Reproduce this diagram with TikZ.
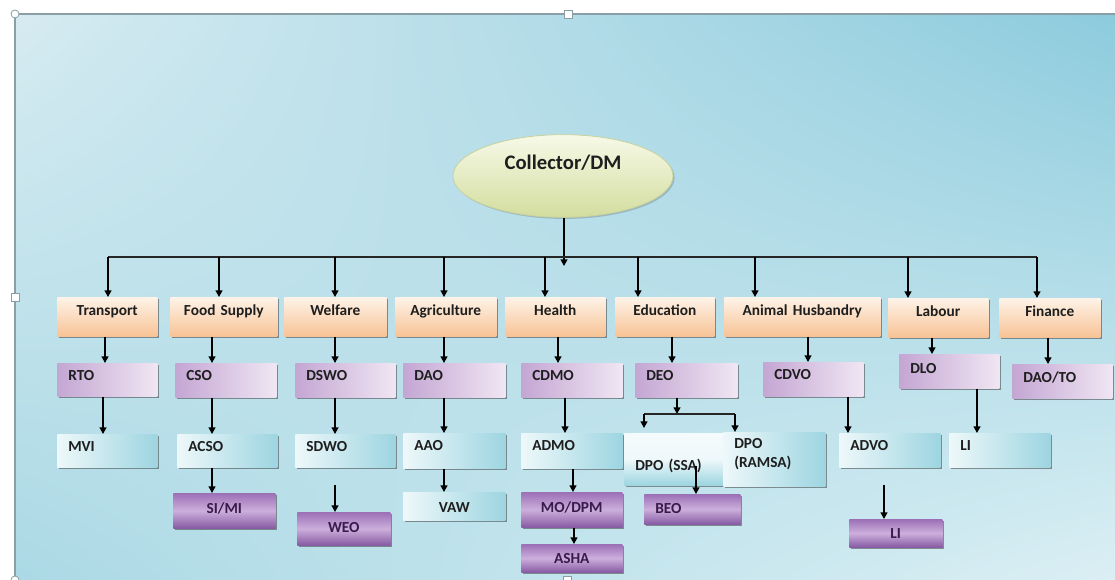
\documentclass[tikz,border=0pt]{standalone}
\usepackage{fontspec}
\setmainfont{Carlito}
\usetikzlibrary{arrows.meta,shapes.geometric,shadows,shadings}

\definecolor{bgUL}{HTML}{D6EBF1}
\definecolor{bgUR}{HTML}{8CCBDD}
\definecolor{bgLL}{HTML}{ABD9E5}
\definecolor{bgLR}{HTML}{DBEFF4}
\definecolor{frameC}{HTML}{8A9EA6}
\definecolor{peachT}{HTML}{FEF3E8}
\definecolor{peachB}{HTML}{F7C395}
\definecolor{lavL}{HTML}{C4A6D3}
\definecolor{lavR}{HTML}{F0E6F3}
\definecolor{aqL}{HTML}{EEF8FA}
\definecolor{aqR}{HTML}{9DD5E1}
\definecolor{plT}{HTML}{9C70B6}
\definecolor{plM}{HTML}{CCAFDC}
\definecolor{plB}{HTML}{875AA3}
\definecolor{ellT}{HTML}{F7F9E8}
\definecolor{ellB}{HTML}{D3DD9E}
\definecolor{ellLine}{HTML}{C8D29C}
\definecolor{inkC}{HTML}{1E1E1E}
\definecolor{plInk}{HTML}{3A1A4C}

% box: style, name, x, y, width, height, baseline offset (all in px), text
\newcommand\ubox[8]{%
  \pgfmathsetmacro\uboxW{#5*0.75}%
  \pgfmathsetmacro\uboxH{#6*0.75}%
  \pgfmathsetmacro\uboxT{#7*0.75}%
  \pgfmathsetmacro\uboxD{\uboxH-\uboxT}%
  \pgfmathsetmacro\uboxTW{\uboxW-16.5}%
  \node[#1, anchor=north west, inner xsep=8.25pt, inner ysep=0pt,
        text width=\uboxTW pt, text height=\uboxT pt, text depth=\uboxD pt]
        (#2) at (#3,#4) {#8};}

\tikzset{
  box/.style={font=\bfseries\fontsize{11.5}{14.5}\selectfont, text=inkC,
    drop shadow={shadow xshift=1.6pt, shadow yshift=-1.6pt, opacity=.5, fill=black!80}},
  peachbox/.style={box, top color=peachT, bottom color=peachB, align=center},
  lavbox/.style={box, left color=lavL, right color=lavR, align=left},
  aqbox/.style={box, left color=aqL, right color=aqR},
  tallaqbox/.style={box, top color=aqL!60!white, bottom color=aqR, middle color=aqL},
  plumbox/.style={box, top color=plT, bottom color=plB, middle color=plM, text=plInk},
  wire/.style={draw=black, line width=1.1pt, -{Triangle[length=5pt,width=5.2pt]}},
  bar/.style={draw=black!85, line width=1.1pt},
  handle/.style={fill=white, draw=frameC, line width=.6pt}
}

\begin{document}
\begin{tikzpicture}[x=0.75pt,y=-0.75pt]
\useasboundingbox (0,0) rectangle (1115,580);

% page background and frame
\fill[white] (0,0) rectangle (1115,580);
\shade[upper left=bgUL, upper right=bgUR, lower left=bgLL, lower right=bgLR]
  (15,14) rectangle (1115,580);
\draw[frameC, line width=1.5pt] (15,580) -- (15,14) -- (1115,14);
\draw[handle] (15,14) circle[radius=3pt];
\draw[handle] (564,10) rectangle (572,18);
\draw[handle] (11,293) rectangle (19,301);
\draw[handle] (15,580) circle[radius=3pt];
\draw[handle] (563,576) rectangle (571,584);

% head
\node[ellipse, draw=ellLine, line width=.6pt, top color=ellT, bottom color=ellB,
      minimum width=165pt, minimum height=62pt, inner sep=0pt,
      text height=11pt, text depth=20pt, text=inkC,
      font=\bfseries\fontsize{15.5}{18}\selectfont,
      drop shadow={shadow xshift=1.2pt, shadow yshift=-1.2pt, opacity=.25, fill=black!70}]
      (collector) at (563,176) {Collector/DM};

% departments
\ubox{peachbox}{transport}{57}{297}{100}{39}{18}{Transport}
\ubox{peachbox}{food}{170}{297}{107}{39}{18}{Food Supply}
\ubox{peachbox}{welfare}{284}{297}{102}{39}{18}{Welfare}
\ubox{peachbox}{agri}{395}{297}{101}{39}{18}{Agriculture}
\ubox{peachbox}{health}{505}{297}{100}{39}{18}{Health}
\ubox{peachbox}{education}{615}{297}{99}{39}{18}{Education}
\ubox{peachbox}{animal}{724}{297}{156}{39}{18}{Animal Husbandry}
\ubox{peachbox}{labour}{888}{298}{100}{39}{18}{Labour}
\ubox{peachbox}{finance}{999}{298}{101}{39}{18}{Finance}

% district officers
\ubox{lavbox}{rto}{57}{363}{100}{33}{17}{RTO}
\ubox{lavbox}{cso}{175}{363}{101}{34}{17}{CSO}
\ubox{lavbox}{dswo}{295}{363}{100}{34}{17}{DSWO}
\ubox{lavbox}{dao}{403}{363}{102}{34}{17}{DAO}
\ubox{lavbox}{cdmo}{521}{363}{101}{34}{17}{CDMO}
\ubox{lavbox}{deo}{635}{363}{102}{34}{17}{DEO}
\ubox{lavbox}{cdvo}{763}{362}{100}{34}{17}{CDVO}
\ubox{lavbox}{dlo}{899}{354}{100}{34}{19}{DLO}
\ubox{lavbox}{daoto}{1012}{364}{100}{34}{18}{DAO/TO}

% assistant officers
\ubox{aqbox,align=left}{mvi}{57}{434}{100}{33}{17}{MVI}
\ubox{aqbox,align=left}{acso}{177}{434}{100}{33}{17}{ACSO}
\ubox{aqbox,align=left}{sdwo}{295}{434}{100}{33}{17}{SDWO}
\ubox{aqbox,align=left}{aao}{403}{433}{102}{35}{17}{AAO}
\ubox{aqbox,align=left}{admo}{521}{433}{101}{35}{17}{ADMO}
\ubox{tallaqbox,align=left}{dposs}{624}{433}{99}{52}{37}{DPO (SSA)}
\ubox{aqbox,align=left}{dpora}{723}{432}{102}{54}{16}{DPO\\(RAMSA)}
\ubox{aqbox,align=left}{advo}{839}{433}{101}{34}{17}{ADVO}
\ubox{aqbox,align=left}{li1}{949}{433}{101}{34}{17}{LI}

% field level
\ubox{plumbox,align=center}{simi}{173}{493}{102}{35}{20}{SI/MI}
\ubox{plumbox,align=center}{weo}{297}{512}{93}{33}{20}{WEO}
\ubox{aqbox,align=center}{vaw}{403}{492}{102}{28}{20}{VAW}
\ubox{plumbox,align=center}{modpm}{521}{492}{101}{35}{20}{MO/DPM}
\ubox{plumbox,align=center}{asha}{521}{544}{101}{28}{19}{ASHA}
\ubox{plumbox,align=left}{beo}{644}{494}{96}{30}{19}{BEO}
\ubox{plumbox,align=center}{li2}{849}{519}{93}{28}{19}{LI}

% connectors from the head to the departments
\coordinate (hub) at (564,266);
\coordinate (busL) at (108,257);
\coordinate (busR) at (1037,257);
\draw[wire] (collector.south -| hub) -- (hub);
\draw[bar] (busL) -- (busR);
\draw[wire] (busL) -- (transport.north -| busL);
\foreach \n/\x in {food/219, welfare/335, agri/444, health/545,
                   education/638, animal/755, labour/908}
  \draw[wire] (busL -| \x,0) -- (\n.north -| \x,0);
\draw[wire] (busR) -- (finance.north -| busR);

% departments to district officers
\foreach \a/\b/\x in {transport/rto/105, food/cso/212, welfare/dswo/335,
                      agri/dao/444, health/cdmo/558, education/deo/672,
                      animal/cdvo/808, labour/dlo/932, finance/daoto/1048}
  \draw[wire] (\a.south -| \x,0) -- (\b.north -| \x,0);

% district officers to assistants
\foreach \a/\b/\x in {rto/mvi/103, cso/acso/212, dswo/sdwo/335,
                      dao/aao/444, cdmo/admo/565, cdvo/advo/848, dlo/li1/977}
  \draw[wire] (\a.south -| \x,0) -- (\b.north -| \x,0);

% education branch
\coordinate (split) at (677,414);
\coordinate (splitL) at (644,414);
\coordinate (splitR) at (735,414);
\coordinate (ssaTip) at (644,428);
\draw[wire] (deo.south -| split) -- (split);
\draw[bar] (splitL) -- (splitR);
\draw[wire] (splitL) -- (ssaTip);
\draw[wire] (splitR) -- (dpora.north -| splitR);

% assistants to field level
\foreach \a/\b/\x in {acso/simi/212, aao/vaw/444, admo/modpm/573, modpm/asha/574}
  \draw[wire] (\a.south -| \x,0) -- (\b.north -| \x,0);
\coordinate (weoIn) at (335,485);
\coordinate (beoIn) at (696,466);
\coordinate (liIn) at (884,485);
\draw[wire] (weoIn) -- (weo.north -| weoIn);
\draw[wire] (beoIn) -- (beo.north -| beoIn);
\draw[wire] (liIn) -- (li2.north -| liIn);
\end{tikzpicture}
\end{document}
